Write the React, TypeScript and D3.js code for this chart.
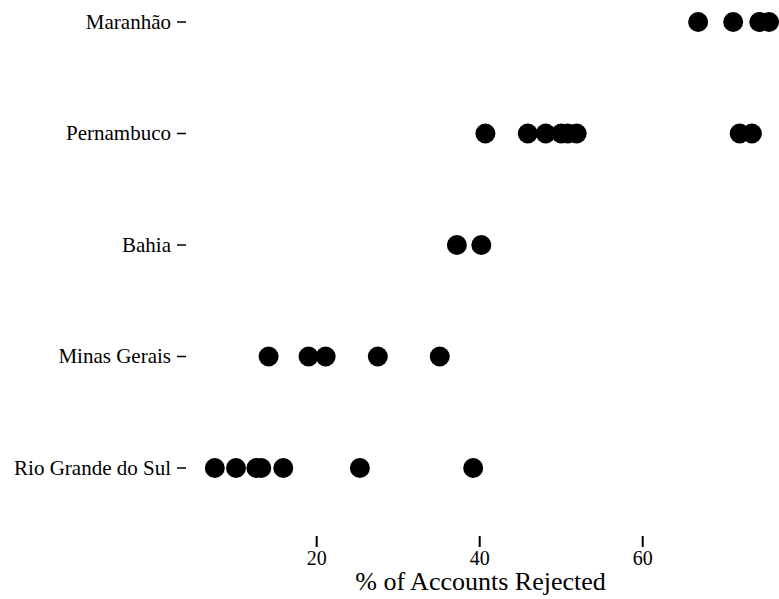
import * as d3 from 'd3';

// states, top to bottom
const states = ['Maranhão', 'Pernambuco', 'Bahia', 'Minas Gerais', 'Rio Grande do Sul'];

// % of accounts rejected
const maranhao = [66.8, 71.1, 74.3, 75.5];
const pernambuco = [40.7, 45.9, 48.1, 50.0, 50.8, 51.9, 71.9, 73.4];
const bahia = [37.2, 40.2];
const minasGerais = [14.1, 19.0, 21.1, 27.5, 35.1];
const rioGrandeDoSul = [7.5, 10.1, 12.6, 13.2, 15.9, 25.3, 39.2];

const xTicks = [20, 40, 60];

const seriesByState = [maranhao, pernambuco, bahia, minasGerais, rioGrandeDoSul];

const width = 779, height = 599;
const font = '"Liberation Serif", "Times New Roman", serif';

export default function App() {
  const x = d3.scaleLinear().domain([20, 60]).range([316.7, 642.7]);
  const y = d3.scalePoint().domain(states).range([22, 468]);

  const points = seriesByState.flatMap((vals, i) =>
    vals.map(v => ({ state: states[i], v }))
  );

  return (
    <div style={{ position: 'absolute', left: 0, top: 0 }}>
      <svg width={width} height={height} style={{ display: 'block' }}>
        <rect width={width} height={height} fill="#fff" />
        {states.map(s => (
          <g key={s} transform={`translate(0,${y(s)})`}>
            <text x={171} y={0} dy="0.33em" textAnchor="end" fontFamily={font} fontSize={21}>{s}</text>
            <line x1={177} x2={186} y1={0} y2={0} stroke="#000" strokeWidth={1.5} />
          </g>
        ))}
        {points.map((p, i) => (
          <circle key={i} cx={x(p.v)} cy={y(p.state)} r={10} fill="#000" />
        ))}
        {xTicks.map(t => (
          <line key={'tk' + t} x1={x(t)} x2={x(t)} y1={536} y2={547} stroke="#000" strokeWidth={2} />
        ))}
        {xTicks.map(t => (
          <text key={'tl' + t} x={x(t)} y={565} textAnchor="middle" fontFamily={font} fontSize={20}>{t}</text>
        ))}
        <text x={480.5} y={590} textAnchor="middle" fontFamily={font} fontSize={26}>% of Accounts Rejected</text>
      </svg>
    </div>
  );
}
